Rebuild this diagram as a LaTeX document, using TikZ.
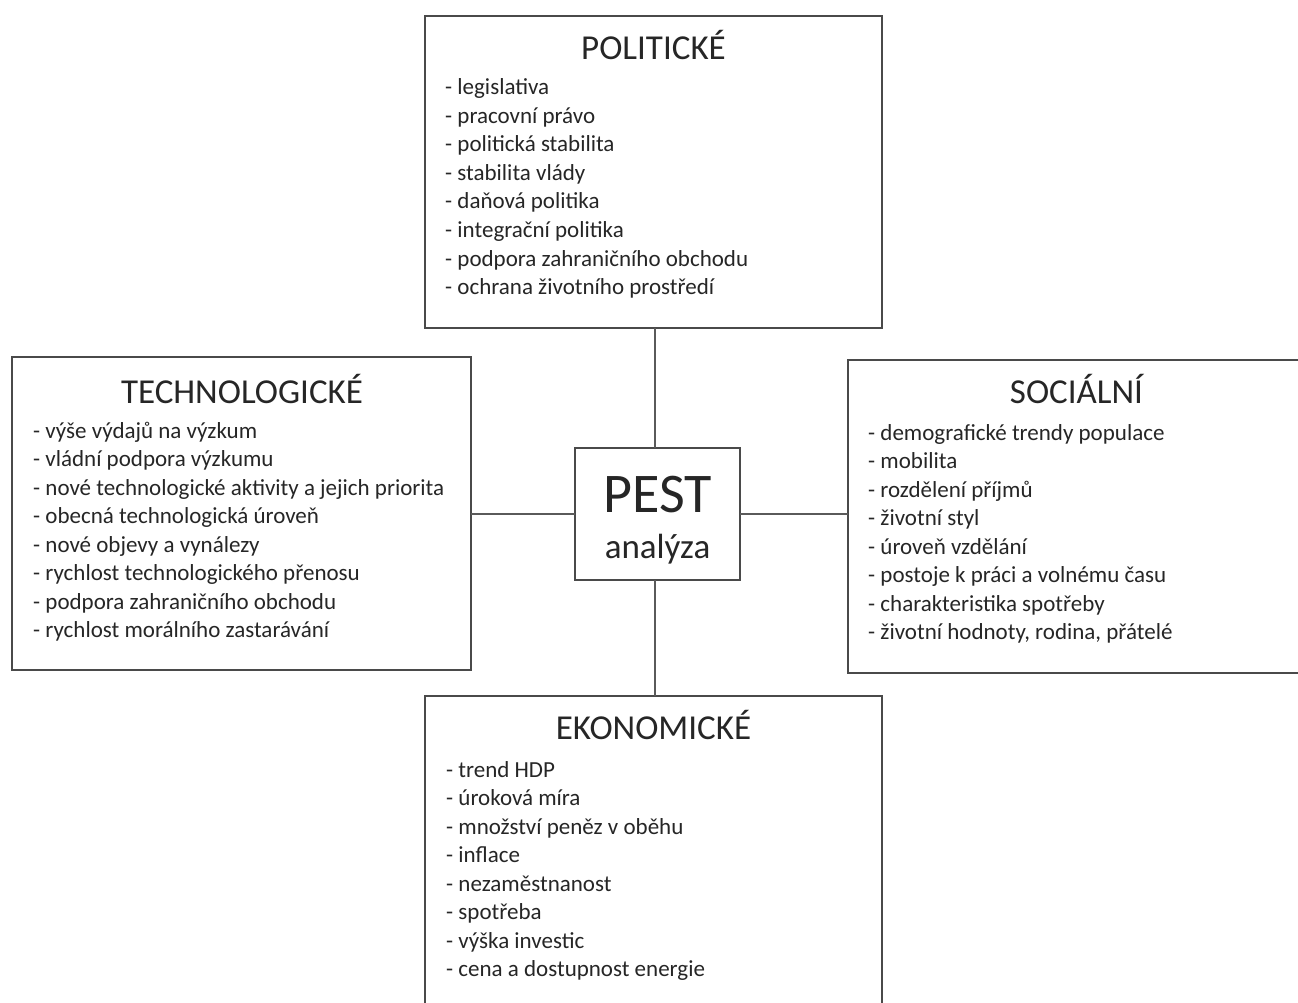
\documentclass[tikz,border=0pt]{standalone}
\usepackage{fontspec}
\setmainfont{Carlito}
\definecolor{boxc}{HTML}{4A4A4A}
\definecolor{connc}{HTML}{5A5A5A}
\definecolor{txtc}{HTML}{262626}
\begin{document}
\begin{tikzpicture}[x=1pt,y=-1pt,
  box/.style={draw=boxc, line width=1.6pt, inner sep=0pt, outer sep=0pt},
  conn/.style={draw=connc, line width=1.5pt},
  ttl/.style={anchor=base, inner sep=0pt, text=txtc, font=\fontsize{35}{42}\selectfont},
  itm/.style={anchor=base west, inner sep=0pt, text=txtc, font=\fontsize{23}{28.5}\selectfont}]
\useasboundingbox (0,0) rectangle (1298,1003);
\clip (0,0) rectangle (1298,1003);
\fill[white] (0,0) rectangle (1298,1003);

% boxes
\node[box, minimum width=457pt, minimum height=312pt] (pol) at (653.5,172) {};
\node[box, minimum width=459pt, minimum height=313pt] (tech) at (241.5,513.5) {};
\node[box, minimum width=457pt, minimum height=313pt] (soc) at (1076.5,516.5) {};
\node[box, minimum width=457pt, minimum height=319pt] (eko) at (653.5,855.5) {};
\node[box, minimum width=165pt, minimum height=132pt] (pest) at (657.5,514) {};

% connectors
\draw[conn] ([xshift=-2.5pt]pest.north) -- ([xshift=-2.5pt]pest.north |- pol.south);
\draw[conn] ([xshift=-2.5pt]pest.south) -- ([xshift=-2.5pt]pest.south |- eko.north);
\draw[conn] (pest.west) -- (pest.west -| tech.east);
\draw[conn] (pest.east) -- (pest.east -| soc.west);

% center text
\node[anchor=base, inner sep=0pt, text=txtc, font=\fontsize{56}{60}\selectfont] (pestt) at (657.5,512) {PEST};
\node[anchor=base, inner sep=0pt, text=txtc, font=\fontsize{35}{42}\selectfont] (anal) at (657.5,558) {analýza};

% titles
\node[ttl] (polt) at (653.5,60) {POLITICKÉ};
\node[ttl] (techt) at (242,403) {TECHNOLOGICKÉ};
\node[ttl] (soct) at (1076.5,403) {SOCIÁLNÍ};
\node[ttl] (ekot) at (653.5,739) {EKONOMICKÉ};

% items
\foreach \t [count=\i from 0] in {legislativa, pracovní právo, politická stabilita, stabilita vlády, daňová politika, integrační politika, podpora zahraničního obchodu, ochrana životního prostředí}
  \node[itm] (pol-\i) at (445,95+28.5*\i) {- \t};
\foreach \t [count=\i from 0] in {výše výdajů na výzkum, vládní podpora výzkumu, nové technologické aktivity a jejich priorita, obecná technologická úroveň, nové objevy a vynálezy, rychlost technologického přenosu, podpora zahraničního obchodu, rychlost morálního zastarávání}
  \node[itm] (tech-\i) at (33,438+28.5*\i) {- \t};
\foreach \t [count=\i from 0] in {demografické trendy populace, mobilita, rozdělení příjmů, životní styl, úroveň vzdělání, postoje k práci a volnému času, charakteristika spotřeby, {životní hodnoty, rodina, přátelé}}
  \node[itm] (soc-\i) at (868,440+28.5*\i) {- \t};
\foreach \t [count=\i from 0] in {trend HDP, úroková míra, množství peněz v oběhu, inflace, nezaměstnanost, spotřeba, výška investic, cena a dostupnost energie}
  \node[itm] (eko-\i) at (446,777+28.5*\i) {- \t};
\end{tikzpicture}
\end{document}
